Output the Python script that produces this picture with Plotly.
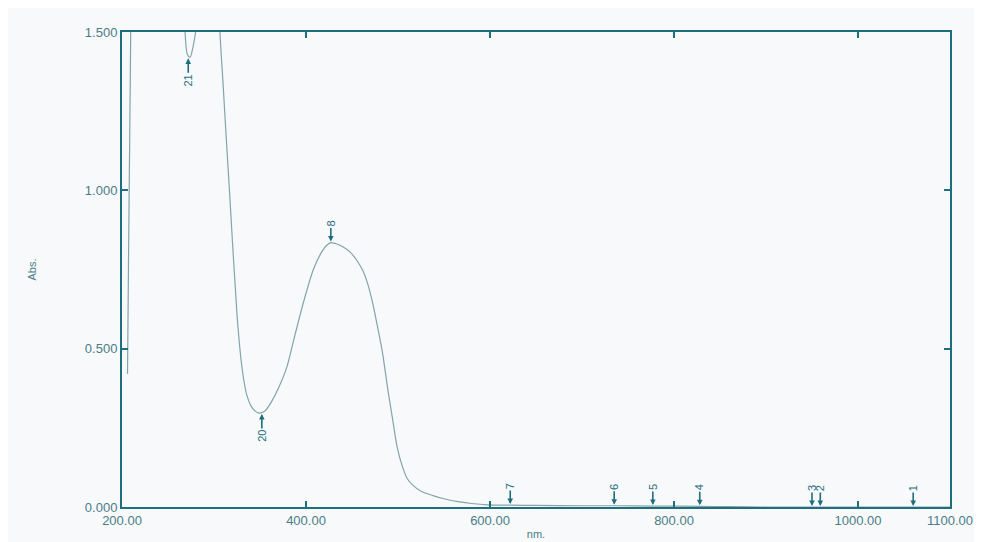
import plotly.graph_objects as go

# Spectrum (wavelength nm, absorbance)
wavelength = [206, 207, 208, 209, 210, 212, 220, 240, 260, 265, 268.5, 271, 274, 277, 280, 283, 290, 300,
              304, 306.5, 310, 313, 317, 320, 323, 326, 330, 333, 336, 340, 344, 348, 352, 356, 363, 370,
              379, 386, 393, 400, 408, 416, 422, 427, 432, 440, 448, 455, 462, 466, 472, 477, 483, 489,
              494, 499, 505, 510, 516, 525, 538, 550, 567, 580, 597, 622, 650, 700, 735, 777, 828, 860,
              900, 950, 1000, 1050, 1100]
absorbance = [0.42, 0.75, 1.05, 1.35, 1.65, 2.0, 2.4, 2.5, 2.0, 1.7, 1.5, 1.43, 1.42, 1.45, 1.5, 1.6, 1.9, 2.0,
              1.75, 1.5, 1.33, 1.18, 0.99, 0.84, 0.70, 0.57, 0.45, 0.39, 0.35, 0.32, 0.305, 0.297, 0.298, 0.305, 0.335, 0.375,
              0.44, 0.52, 0.60, 0.675, 0.75, 0.80, 0.825, 0.835, 0.832, 0.822, 0.805, 0.78, 0.745, 0.715, 0.65, 0.58, 0.49, 0.37,
              0.28, 0.19, 0.126, 0.09, 0.069, 0.05, 0.036, 0.026, 0.016, 0.011, 0.007, 0.006, 0.005, 0.004, 0.004, 0.003, 0.002, 0.001,
              0.0, 0.0, 0.0, 0.0, 0.0]

# Peak-pick markers
peak_labels = ["1", "2", "3", "4", "5", "6", "7", "8"]
peak_nm = [1060, 959, 950, 828, 777, 735, 622, 427]
peak_abs = [0.0, 0.0, 0.0, 0.002, 0.003, 0.004, 0.006, 0.835]
valley_labels = ["20", "21"]
valley_nm = [352, 272]
valley_abs = [0.297, 1.42]

x_ticks = [200, 400, 600, 800, 1000, 1100]
x_ticktext = ["200.00", "400.00", "600.00", "800.00", "1000.00", "1100.00"]
y_ticks = [0.0, 0.5, 1.0, 1.5]
y_ticktext = ["0.000", "0.500", "1.000", "1.500"]

axis_col = "#1f6e7e"
curve_col = "#82a5aa"
text_col = "#4a7d87"
font_fam = "Liberation Sans, Arial"

fig = go.Figure()
fig.add_trace(go.Scatter(x=wavelength, y=absorbance, mode="lines",
                         line=dict(color=curve_col, width=1.2, shape="spline", smoothing=0.8),
                         hoverinfo="skip", showlegend=False))

annotations = []
for lab, xv, yv in zip(peak_labels, peak_nm, peak_abs):
    annotations.append(dict(x=xv, y=yv, xref="x", yref="y", text=lab, textangle=-90,
                            showarrow=True, arrowhead=2, arrowsize=0.7, arrowwidth=1.6,
                            arrowcolor=axis_col, ax=0, ay=-19 - 3 * (len(lab) - 1), standoff=1,
                            font=dict(family=font_fam, size=11, color=axis_col)))
for lab, xv, yv in zip(valley_labels, valley_nm, valley_abs):
    annotations.append(dict(x=xv, y=yv, xref="x", yref="y", text=lab, textangle=-90,
                            showarrow=True, arrowhead=2, arrowsize=0.7, arrowwidth=1.6,
                            arrowcolor=axis_col, ax=0, ay=20 + 3 * (len(lab) - 1), standoff=1,
                            font=dict(family=font_fam, size=11, color=axis_col)))

fig.update_layout(
    width=982, height=542,
    margin=dict(l=114, r=40, t=24, b=43),
    paper_bgcolor="#f7f9fa", plot_bgcolor="#f7f9fa",
    font=dict(family=font_fam, size=12, color=text_col),
    annotations=annotations,
    showlegend=False,
)
fig.update_xaxes(range=[200, 1100], tickvals=x_ticks, ticktext=x_ticktext,
                 showgrid=False, zeroline=False, showline=True, linecolor=axis_col, linewidth=2,
                 mirror="ticks", ticks="inside", ticklen=6, tickcolor=axis_col, tickwidth=1.5,
                 tickfont=dict(size=13, color=text_col),
                 title=dict(text="nm.", font=dict(size=11, color=text_col), standoff=4))
fig.update_yaxes(range=[0, 1.5], tickvals=y_ticks, ticktext=y_ticktext,
                 showgrid=False, zeroline=False, showline=True, linecolor=axis_col, linewidth=2,
                 mirror="ticks", ticks="inside", ticklen=6, tickcolor=axis_col, tickwidth=1.5,
                 tickfont=dict(size=13, color=text_col),
                 title=dict(text="Abs.", font=dict(size=11, color=text_col), standoff=46))

fig.write_html("out.html")
